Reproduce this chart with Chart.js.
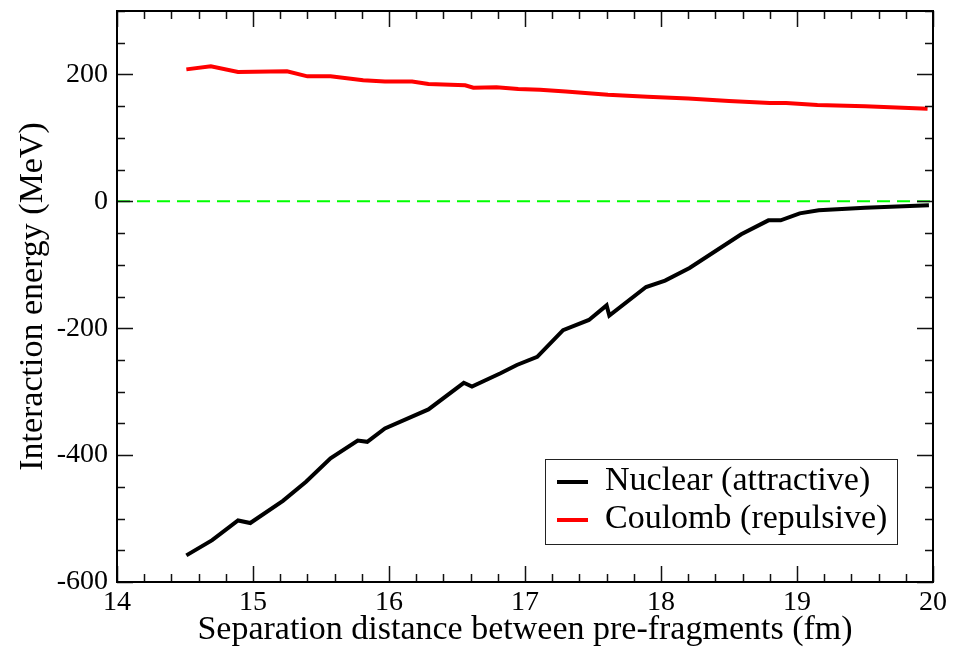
<!DOCTYPE html>
<html>
<head>
<meta charset="utf-8">
<title>Interaction energy</title>
<script src="https://cdn.jsdelivr.net/npm/chart.js@4.4.1/dist/chart.umd.min.js"></script>
<style>
    body { margin: 0; background: #fff; }
    canvas { display: block; }
</style>
</head>
<body>
<canvas id="energyChart" width="959" height="649"></canvas>
<script>
const nuclearX = [14.51, 14.70, 14.89, 14.98, 15.22, 15.39, 15.57, 15.77, 15.84, 15.97, 16.29, 16.55, 16.61, 16.82, 16.94, 17.09, 17.28, 17.47, 17.60, 17.62, 17.89, 18.03, 18.21, 18.59, 18.79, 18.88, 19.02, 19.16, 19.50, 19.97];
const nuclearY = [-558, -534, -503, -507, -472, -442, -405, -377, -379, -358, -328, -286, -292, -271, -258, -245, -203, -187, -164, -180, -135, -125, -105, -52, -30, -30, -19, -14, -10, -6];
const coulombX = [14.51, 14.69, 14.89, 15.25, 15.40, 15.57, 15.81, 15.97, 16.17, 16.29, 16.56, 16.62, 16.79, 16.95, 17.11, 17.30, 17.61, 17.90, 18.20, 18.50, 18.80, 18.92, 19.15, 19.50, 19.96];
const coulombY = [208, 213, 204, 205, 197, 197, 191, 189, 189, 185, 183, 179, 180, 177, 176, 173, 168, 165, 162, 158, 155, 155, 152, 150, 146];
const zeroX = [14, 20];
const zeroY = [0, 0];
const seriesLabels = ["Nuclear (attractive)", "Coulomb (repulsive)"];

const toPoints = (xs, ys) => xs.map((x, i) => ({ x: x, y: ys[i] }));

Chart.defaults.font.family = "'Liberation Serif', 'Times New Roman', serif";
Chart.defaults.color = "#000";

// frame + inward major/minor ticks on all four sides
const framePlugin = {
    id: "frame",
    afterDraw(chart) {
        const { ctx, chartArea: a, scales: { x, y } } = chart;
        ctx.save();
        ctx.strokeStyle = "#111";
        ctx.lineWidth = 1.5;
        ctx.beginPath();
        for (let v = 14; v <= 20.001; v += 0.2) {
            const px = Math.round(x.getPixelForValue(v)) + 0.5;
            const major = Math.abs(v - Math.round(v)) < 0.01;
            const len = major ? 16 : 8;
            ctx.moveTo(px, a.bottom); ctx.lineTo(px, a.bottom - len);
            ctx.moveTo(px, a.top); ctx.lineTo(px, a.top + len);
        }
        for (let v = -600; v <= 300; v += 50) {
            const py = Math.round(y.getPixelForValue(v)) + 0.5;
            const len = v % 200 === 0 ? 16 : 8;
            ctx.moveTo(a.left, py); ctx.lineTo(a.left + len, py);
            ctx.moveTo(a.right, py); ctx.lineTo(a.right - len, py);
        }
        ctx.stroke();
        ctx.strokeStyle = "#000";
        ctx.lineWidth = 2;
        ctx.strokeRect(a.left, a.top, a.right - a.left, a.bottom - a.top);

        // legend box, lower right
        const boxW = 352, boxH = 85;
        const bx = a.right - 36 - boxW, by = a.bottom - 38 - boxH;
        ctx.fillStyle = "#fff";
        ctx.fillRect(bx, by, boxW, boxH);
        ctx.lineWidth = 1;
        ctx.strokeStyle = "#222";
        ctx.strokeRect(bx + 0.5, by + 0.5, boxW, boxH);
        ctx.font = "34px 'Liberation Serif', 'Times New Roman', serif";
        ctx.textBaseline = "alphabetic";
        ctx.textAlign = "left";
        [0, 1].forEach(i => {
            const ds = chart.data.datasets[i];
            const ly = by + 23 + i * 38;
            ctx.strokeStyle = ds.borderColor;
            ctx.lineWidth = 4;
            ctx.beginPath();
            ctx.moveTo(bx + 12, ly);
            ctx.lineTo(bx + 43, ly);
            ctx.stroke();
            ctx.fillStyle = "#000";
            ctx.fillText(ds.label, bx + 60, ly + 8);
        });
        ctx.restore();
    }
};

const ctx = document.getElementById("energyChart").getContext("2d");
const chart = new Chart(ctx, {
    type: "scatter",
    data: {
        datasets: [
            {
                label: seriesLabels[0],
                data: toPoints(nuclearX, nuclearY),
                showLine: true,
                borderColor: "#000",
                borderWidth: 4,
                pointRadius: 0,
                tension: 0
            },
            {
                label: seriesLabels[1],
                data: toPoints(coulombX, coulombY),
                showLine: true,
                borderColor: "#ff0000",
                borderWidth: 4,
                pointRadius: 0,
                tension: 0
            },
            {
                label: "zero",
                data: toPoints(zeroX, zeroY),
                showLine: true,
                borderColor: "#00ff00",
                borderWidth: 2,
                borderDash: [13, 7],
                pointRadius: 0
            }
        ]
    },
    options: {
        responsive: false,
        animation: false,
        layout: { padding: { top: 11, right: 26, left: 0, bottom: 0 } },
        plugins: {
            legend: { display: false },
            tooltip: { enabled: false }
        },
        scales: {
            x: {
                type: "linear",
                min: 14,
                max: 20,
                grid: { display: false, drawTicks: false },
                border: { display: false },
                ticks: {
                    stepSize: 1,
                    padding: 4,
                    maxRotation: 0,
                    font: { size: 28 },
                    callback: v => String(v)
                },
                title: {
                    display: true,
                    text: "Separation distance between pre-fragments (fm)",
                    font: { size: 34, lineHeight: 1 },
                    padding: { top: 0, bottom: 2 }
                },
                afterFit(scale) { scale.height = 67; }
            },
            y: {
                type: "linear",
                min: -600,
                max: 300,
                grid: { display: false, drawTicks: false },
                border: { display: false },
                ticks: {
                    stepSize: 200,
                    includeBounds: false,
                    padding: 9,
                    font: { size: 28 },
                    callback: v => String(v)
                },
                title: {
                    display: true,
                    text: "Interaction energy (MeV)",
                    font: { size: 34, lineHeight: 1 },
                    padding: { top: 16, bottom: 0 }
                },
                afterFit(scale) {
                    scale.width = 117;
                    scale.paddingTop = 0;
                    scale.paddingBottom = 0;
                }
            }
        }
    },
    plugins: [framePlugin]
});
</script>
</body>
</html>
